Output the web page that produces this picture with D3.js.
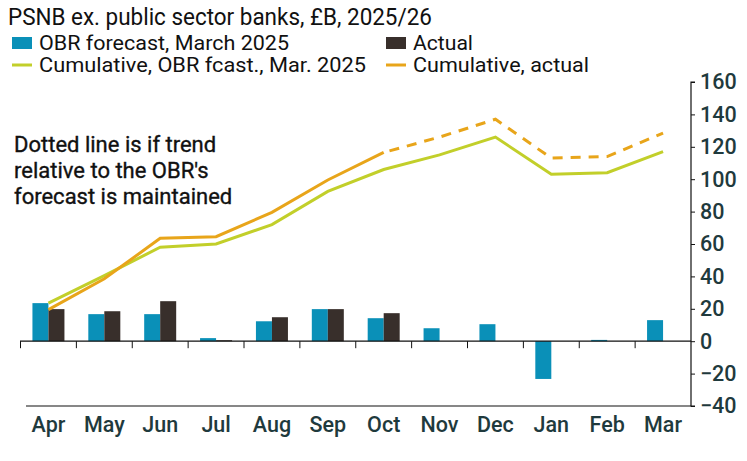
<!DOCTYPE html>
<html>
<head>
<meta charset="utf-8">
<script src="https://cdn.jsdelivr.net/npm/d3@7"></script>
<style>
  html, body { margin: 0; padding: 0; background: #fff; }
  svg { display: block; }
  text { font-family: Roboto, "Liberation Sans", sans-serif; }
</style>
</head>
<body>
<svg id="chart" width="747" height="461"></svg>
<script>
// ---- data ----
const months = ["Apr","May","Jun","Jul","Aug","Sep","Oct","Nov","Dec","Jan","Feb","Mar"];
const obrForecast = [23.5, 16.7, 16.7, 1.9, 12.3, 19.8, 14.2, 8.0, 10.5, -23.3, 0.8, 13.0];
const actual = [19.8, 18.5, 24.7, 0.6, 14.8, 19.8, 17.3, null, null, null, null, null];
const cumObr = [23.5, 40.5, 58, 60, 72, 92.5, 106, 115, 126, 103, 104, 117];
const cumActual = [19.5, 38.5, 63.5, 64.5, 79.5, 99.5, 116.5, null, null, null, null, null];
const cumProjected = [null, null, null, null, null, null, 116.5, 126, 137, 113, 114, 128.5];
const yTicks = [-40, -20, 0, 20, 40, 60, 80, 100, 120, 140, 160];

const title = "PSNB ex. public sector banks, £B, 2025/26";
const legendItems = [
  {label: "OBR forecast, March 2025", type: "rect", color: "#0a90b8"},
  {label: "Actual", type: "rect", color: "#382f2b"},
  {label: "Cumulative, OBR fcast., Mar. 2025", type: "line", color: "#c2cf2a"},
  {label: "Cumulative, actual", type: "line", color: "#e8a51a"}
];
const annotation = ["Dotted line is if trend", "relative to the OBR's", "forecast is maintained"];

const C = {blue: "#0a90b8", dark: "#382f2b", green: "#c2cf2a", orange: "#e8a51a", axis: "#1f3a3d"};

const svg = d3.select("#chart");

const x = d3.scaleBand().domain(months).range([20.5, 691]).paddingInner(0).paddingOuter(0);
const y = d3.scaleLinear().domain([-40, 160]).range([406, 82]);
const barW = 16;
const cx = m => x(m) + x.bandwidth() / 2;

// title
svg.append("text").attr("x", 8).attr("y", 25).attr("font-size", 23).attr("fill", "#111")
  .attr("textLength", 424).attr("lengthAdjust", "spacingAndGlyphs").text(title);

// legend
const legPos = [[12, 43], [386, 43], [12, 65], [386, 65]];
const legLen = [250, 60, 327, 176];
legendItems.forEach((d, i) => {
  const [lx, ly] = legPos[i];
  if (d.type === "rect") {
    svg.append("rect").attr("x", lx).attr("y", ly - 6).attr("width", 20).attr("height", 12).attr("fill", d.color);
  } else {
    svg.append("line").attr("x1", lx).attr("x2", lx + 20).attr("y1", ly).attr("y2", ly)
      .attr("stroke", d.color).attr("stroke-width", 3);
  }
  svg.append("text").attr("x", lx + 27).attr("y", ly).attr("dy", "0.35em")
    .attr("font-size", 20.5).attr("fill", "#111")
    .attr("textLength", legLen[i]).attr("lengthAdjust", "spacingAndGlyphs").text(d.label);
});

// annotation
annotation.forEach((t, i) => {
  svg.append("text").attr("x", 14).attr("y", 152 + i * 26).attr("font-size", 22)
    .attr("font-family", "Lato, 'Open Sans', sans-serif").attr("font-weight", 400)
    .attr("stroke", "#111").attr("stroke-width", 0.35)
    .attr("fill", "#111").text(t);
});

// bars
svg.append("g").selectAll("rect").data(months).join("rect")
  .attr("x", m => cx(m) - barW)
  .attr("width", barW)
  .attr("y", (m, i) => y(Math.max(0, obrForecast[i])))
  .attr("height", (m, i) => Math.abs(y(obrForecast[i]) - y(0)))
  .attr("fill", C.blue);
svg.append("g").selectAll("rect").data(months.filter((m, i) => actual[i] != null)).join("rect")
  .attr("x", m => cx(m))
  .attr("width", barW)
  .attr("y", m => y(Math.max(0, actual[months.indexOf(m)])))
  .attr("height", m => Math.abs(y(actual[months.indexOf(m)]) - y(0)))
  .attr("fill", C.dark);

// zero axis with ticks
svg.append("line").attr("x1", 20).attr("x2", 691).attr("y1", y(0)).attr("y2", y(0))
  .attr("stroke", "#111").attr("stroke-width", 1.2);
svg.append("g").selectAll("line").data(months).join("line")
  .attr("x1", m => x(m)).attr("x2", m => x(m))
  .attr("y1", y(0)).attr("y2", y(0) + 7)
  .attr("stroke", "#111").attr("stroke-width", 1);

// bottom axis (labels)
const gx = svg.append("g").attr("transform", `translate(0,${y(-40)})`)
  .call(d3.axisBottom(x).tickSize(0).tickPadding(11));
gx.select(".domain").attr("d", "M26,0H691").attr("stroke", "#111").attr("stroke-width", 1.2);
gx.selectAll("text").attr("font-size", 21.5).attr("font-weight", 500).attr("fill", C.axis)
  .attr("font-family", "Roboto, sans-serif");

// right y axis
const gy = svg.append("g").attr("transform", "translate(691,0)")
  .call(d3.axisRight(y).tickValues(yTicks).tickSize(4).tickPadding(5).tickFormat(d3.format("d")));
gy.select(".domain").attr("stroke", "#111").attr("stroke-width", 1.2).attr("d", `M4,${y(160)}H0V${y(-40)}H4`);
gy.selectAll(".tick line").attr("stroke", "#111");
gy.selectAll("text").attr("font-size", 21.5).attr("font-weight", 500).attr("fill", C.axis);

// lines
const line = d3.line().defined(d => d.v != null).x(d => cx(d.m)).y(d => y(d.v));
const toPts = arr => months.map((m, i) => ({m, v: arr[i]}));
svg.append("path").datum(toPts(cumObr)).attr("d", line)
  .attr("fill", "none").attr("stroke", C.green).attr("stroke-width", 3);
svg.append("path").datum(toPts(cumActual)).attr("d", line)
  .attr("fill", "none").attr("stroke", C.orange).attr("stroke-width", 3);
svg.append("path").datum(toPts(cumProjected)).attr("d", line)
  .attr("fill", "none").attr("stroke", C.orange).attr("stroke-width", 3)
  .attr("stroke-dasharray", "10,8").attr("stroke-dashoffset", -6);
</script>
</body>
</html>
